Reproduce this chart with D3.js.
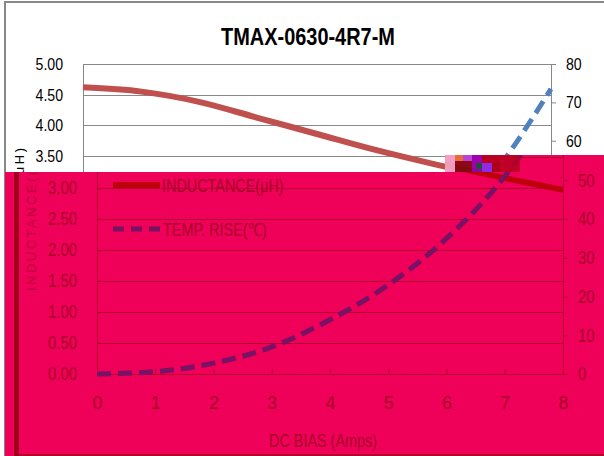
<!DOCTYPE html>
<html><head><meta charset="utf-8">
<script src="https://cdn.jsdelivr.net/npm/d3@7"></script>
<style>
html,body{margin:0;padding:0;background:#fff;}
svg{display:block;}
text{font-family:"Liberation Sans Narrow","Arial Narrow","Liberation Sans",Arial,sans-serif;}
</style></head>
<body>
<svg id="c" width="604" height="456"></svg>
<script>
// ---- data ----
const title = "TMAX-0630-4R7-M";
const current = [0, 1, 2, 3, 4, 5, 6, 7, 8];
const inductance = [4.62, 4.55, 4.38, 4.12, 3.86, 3.60, 3.37, 3.16, 2.97];
const tempRise = [0, 0.6, 2.8, 7.0, 14.0, 23.0, 35.0, 51.0, 73.5];
const xTicks = [0, 1, 2, 3, 4, 5, 6, 7, 8];
const leftTicks = [0, 0.5, 1, 1.5, 2, 2.5, 3, 3.5, 4, 4.5, 5];
const rightTicks = [0, 10, 20, 30, 40, 50, 60, 70, 80];
const seriesNames = ["INDUCTANCE(\u03bcH)", "TEMP. RISE(\u2103)"];
const xTitle = "DC BIAS  (Amps)";
const yTitle = "INDUCTANCE(\u03bcH)";

const svg = d3.select("#c");
const W = 604, H = 456;
const defs = svg.append("defs");

const pinkClip = defs.append("clipPath").attr("id", "pinkClip");
pinkClip.append("rect").attr("x", 5).attr("y", 172).attr("width", W - 5).attr("height", H - 172);
pinkClip.append("rect").attr("x", 445).attr("y", 155).attr("width", W - 445).attr("height", 18);

function condense(sel, k) {
  sel.each(function () {
    const L = this.getComputedTextLength();
    if (L > 0) d3.select(this).attr("textLength", L * k).attr("lengthAdjust", "spacingAndGlyphs");
  });
}

function drawChart(g, o) {
  const x = d3.scaleLinear().domain([0, 8]).range([o.left, o.right]);
  const yL = d3.scaleLinear().domain([0, 5]).range([o.bottom, o.top]);
  const yR = d3.scaleLinear().domain([0, 80]).range([o.bottom, o.top]);
  const K = 0.83;

  g.append("rect").attr("x", 0).attr("y", 0).attr("width", W).attr("height", H).attr("fill", o.bg);
  g.append("line").attr("x1", o.borderX).attr("x2", W).attr("y1", 2).attr("y2", 2)
    .attr("stroke", o.border).attr("stroke-width", 2);
  g.append("line").attr("x1", o.borderX).attr("x2", o.borderX).attr("y1", 1).attr("y2", H)
    .attr("stroke", o.border).attr("stroke-width", o.borderW);
  if (o.bottomBorder) {
    g.append("line").attr("x1", o.borderX).attr("x2", W).attr("y1", 455).attr("y2", 455)
      .attr("stroke", o.border).attr("stroke-width", 1.5);
  }

  if (o.showTitle) {
    const t = g.append("text").attr("x", o.titleX).attr("y", 45).attr("text-anchor", "middle")
      .attr("font-size", 24).attr("font-weight", "bold").attr("fill", o.text).text(title);
    condense(t, K);
  }

  // gridlines
  g.append("g").selectAll("line").data(leftTicks.filter(d => d > 0)).join("line")
    .attr("x1", o.left).attr("x2", o.right)
    .attr("y1", d => Math.round(yL(d)) + 0.5).attr("y2", d => Math.round(yL(d)) + 0.5)
    .attr("stroke", o.grid).attr("stroke-width", 1);

  // left axis
  const la = g.append("g").attr("transform", `translate(${o.left},0)`)
    .call(d3.axisLeft(yL).tickValues(leftTicks.filter(o.leftFilter))
      .tickFormat(d3.format(".2f")).tickSize(0).tickPadding(20));
  la.select(".domain").attr("stroke", o.grid);
  la.selectAll("text").attr("fill", o.text).attr("font-size", o.fs).attr("font-family", null).call(condense, K);

  // right axis
  const ra = g.append("g").attr("transform", `translate(${o.right},0)`)
    .call(d3.axisRight(yR).tickValues(rightTicks.filter(o.rightFilter)).tickSize(5).tickSizeOuter(0).tickPadding(10));
  ra.select(".domain").attr("stroke", o.grid);
  ra.selectAll("line").attr("stroke", o.grid);
  ra.selectAll("text").attr("fill", o.text).attr("font-size", o.fs).attr("font-family", null).call(condense, K);

  // x axis
  const xa = g.append("g").attr("transform", `translate(0,${o.bottom})`)
    .call(d3.axisBottom(x).tickValues(xTicks).tickSize(-5).tickSizeOuter(0).tickPadding(22)
      .tickFormat(o.xLabels ? d3.format("d") : () => ""));
  xa.select(".domain").attr("stroke", o.grid);
  xa.selectAll("line").attr("stroke", o.grid);
  xa.selectAll("text").attr("fill", o.text).attr("font-size", o.fs).attr("font-family", null);
  if (!o.xLabels) xa.selectAll("text").remove();

  if (o.xLabels) {
    const xt = g.append("text").attr("x", o.xTitleX).attr("y", 447).attr("text-anchor", "middle")
      .attr("font-size", 18).attr("fill", o.text).text(xTitle);
    condense(xt, 0.8);
  }
  g.append("text")
    .attr("transform", `translate(${o.yTitleX},${o.yTitleY}) rotate(-90)`)
    .attr("text-anchor", "middle").attr("font-size", 13)
    .style("font-family", "'Liberation Sans',Arial,sans-serif")
    .attr("textLength", 142).attr("lengthAdjust", "spacing")
    .attr("fill", o.yTitleColor).text(yTitle);

  // series
  const ind = current.map((c, i) => [c, inductance[i]]);
  const tmp = current.map((c, i) => [c, tempRise[i]]);
  g.append("path").datum(ind)
    .attr("d", d3.line().x(d => x(d[0])).y(d => yL(d[1])).curve(d3.curveMonotoneX))
    .attr("fill", "none").attr("stroke", o.red).attr("stroke-width", 6);
  g.append("path").datum(tmp)
    .attr("d", d3.line().x(d => x(d[0])).y(d => yR(d[1])).curve(d3.curveMonotoneX))
    .attr("fill", "none").attr("stroke", o.blue).attr("stroke-width", 5)
    .attr("stroke-dasharray", "14,7");

  if (o.legend) {
    g.append("line").attr("x1", 113).attr("x2", 160).attr("y1", 185).attr("y2", 185)
      .attr("stroke", o.red).attr("stroke-width", 6);
    g.append("text").attr("x", 162).attr("y", 192).attr("font-size", 18).attr("fill", o.text)
      .text(seriesNames[0]).call(condense, 0.8);
    g.append("line").attr("x1", 113).attr("x2", 160).attr("y1", 229).attr("y2", 229)
      .attr("stroke", o.blue).attr("stroke-width", 5).attr("stroke-dasharray", "11,7");
    g.append("text").attr("x", 163).attr("y", 236).attr("font-size", 18).attr("fill", o.text)
      .text(seriesNames[1]).call(condense, 0.8);
  }
}

// upper, normal layer
drawChart(svg.append("g"), {
  left: 83, right: 551, top: 64, bottom: 371,
  bg: "#ffffff", border: "#888888", borderX: 5, borderW: 2,
  text: "#000000", grid: "#888888", red: "#C0504D", blue: "#4F81BD",
  fs: 17, titleX: 308, xTitleX: 310, yTitleX: 24, yTitleY: 219, yTitleColor: "#000000",
  showTitle: true, legend: false, xLabels: false, bottomBorder: false,
  leftFilter: d => d >= 3.5, rightFilter: d => d >= 60
});

// tinted, shifted layer
const pink = svg.append("g").attr("clip-path", "url(#pinkClip)");
drawChart(pink, {
  left: 97, right: 563, top: 64, bottom: 374,
  bg: "#EF0059", border: "#A0001C", borderX: 16.5, borderW: 5,
  text: "#A80028", grid: "#B4002C", red: "#BE000C", blue: "#781264",
  fs: 18, titleX: 321, xTitleX: 323, yTitleX: 36, yTitleY: 220, yTitleColor: "#BC0038",
  showTitle: false, legend: true, xLabels: true, bottomBorder: true,
  leftFilter: d => d <= 3, rightFilter: d => d <= 50
});

// glitch blocks at the seam
const glitch = [
  [445, 155, 10, 17, "#F6B8D6"], [455, 155, 8, 6, "#E88030"], [463, 155, 9, 6, "#B050F0"],
  [455, 161, 17, 11, "#7A0A10"], [472, 155, 10, 17, "#9000C0"], [482, 155, 18, 8, "#B00018"],
  [482, 163, 10, 9, "#8030FF"], [492, 163, 8, 9, "#A00010"], [500, 155, 20, 17, "#B80020"],
  [476, 163, 6, 6, "#0A6020"]
];
pink.append("g").selectAll("rect").data(glitch).join("rect")
  .attr("x", d => d[0]).attr("y", d => d[1]).attr("width", d => d[2]).attr("height", d => d[3])
  .attr("fill", d => d[4]).attr("opacity", 0.85);
</script>
</body></html>
